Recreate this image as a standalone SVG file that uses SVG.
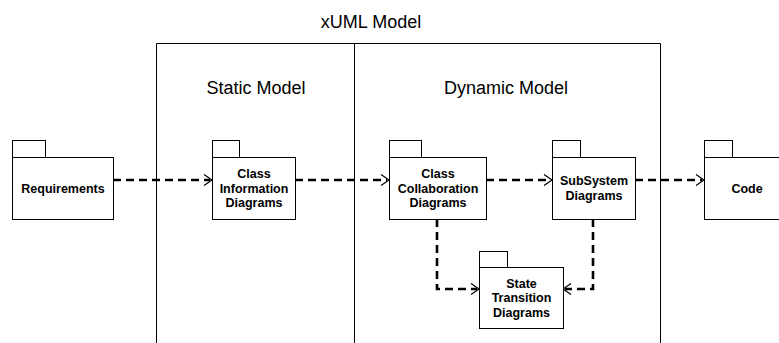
<svg xmlns="http://www.w3.org/2000/svg" width="779" height="343" viewBox="0 0 779 343">
<style>
.frame{fill:none;stroke:#000;stroke-width:1}
.pkg{fill:#fff;stroke:#000;stroke-width:1}
.title{font-family:"Liberation Sans",Arial,sans-serif;font-size:18px;fill:#000;text-anchor:middle}
.lbl{font-family:"Liberation Sans",Arial,sans-serif;font-size:12.5px;font-weight:bold;fill:#000;text-anchor:middle}
.dash{fill:none;stroke:#000;stroke-width:2.6;stroke-dasharray:8 5}
.head{fill:none;stroke:#000;stroke-width:1.2}
</style>
<rect width="779" height="343" fill="#fff"/>
<g id="frame">
<path class="frame" d="M156.5,343 V43.5 H660.5 V343 M354.5,43.5 V343"/>
<text class="title" x="371" y="28">xUML Model</text>
<text class="title" x="256" y="94">Static Model</text>
<text class="title" x="506" y="94">Dynamic Model</text>
</g>
<g id="connectors">
<path class="dash" d="M113,180 H210"/>
<path class="head" d="M204,174.5 L212,180 L204,185.5"/>
<path class="dash" d="M295,180 H387"/>
<path class="head" d="M381,174.5 L389,180 L381,185.5"/>
<path class="dash" d="M486,180 H550"/>
<path class="head" d="M544,174.5 L552,180 L544,185.5"/>
<path class="dash" d="M635,180 H702"/>
<path class="head" d="M696,174.5 L704,180 L696,185.5"/>
<path class="dash" d="M437,219 V289 H477"/>
<path class="head" d="M471,283.5 L479,289 L471,294.5"/>
<path class="dash" d="M593,219 V289 H565"/>
<path class="head" d="M571,283.5 L563,289 L571,294.5"/>
</g>
<g id="requirements">
<rect class="pkg" x="12.5" y="140.5" width="33" height="17"/>
<rect class="pkg" x="12.5" y="157.5" width="101" height="62"/>
<text class="lbl" x="63" y="192.5">Requirements</text>
</g>
<g id="class-information">
<rect class="pkg" x="212.5" y="140.5" width="27" height="17"/>
<rect class="pkg" x="212.5" y="157.5" width="83" height="62"/>
<text class="lbl" x="254" y="178">Class</text>
<text class="lbl" x="254" y="192.5">Information</text>
<text class="lbl" x="254" y="207">Diagrams</text>
</g>
<g id="class-collaboration">
<rect class="pkg" x="389.5" y="140.5" width="32" height="17"/>
<rect class="pkg" x="389.5" y="157.5" width="97" height="62"/>
<text class="lbl" x="438" y="178">Class</text>
<text class="lbl" x="438" y="192.5">Collaboration</text>
<text class="lbl" x="438" y="207">Diagrams</text>
</g>
<g id="subsystem">
<rect class="pkg" x="552.5" y="140.5" width="28" height="17"/>
<rect class="pkg" x="552.5" y="157.5" width="83" height="62"/>
<text class="lbl" x="594" y="185">SubSystem</text>
<text class="lbl" x="594" y="200">Diagrams</text>
</g>
<g id="code">
<rect class="pkg" x="704.5" y="140.5" width="28" height="17"/>
<rect class="pkg" x="704.5" y="157.5" width="86" height="62"/>
<text class="lbl" x="747" y="192.5">Code</text>
</g>
<g id="state-transition">
<rect class="pkg" x="479.5" y="251.5" width="28" height="16"/>
<rect class="pkg" x="479.5" y="267.5" width="84" height="61"/>
<text class="lbl" x="521.5" y="287.5">State</text>
<text class="lbl" x="521.5" y="302">Transition</text>
<text class="lbl" x="521.5" y="316.5">Diagrams</text>
</g>
</svg>
